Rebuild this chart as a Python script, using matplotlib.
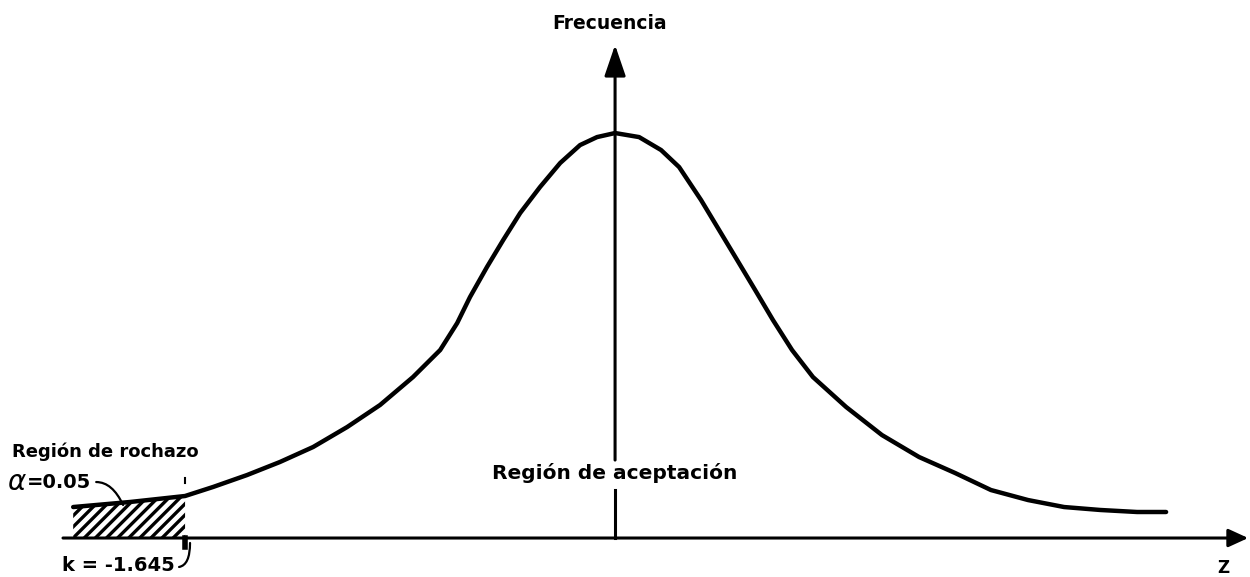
import numpy as np
import matplotlib.pyplot as plt

# curve: z value and relative frequency (peak = 0.40)
z_points = [-2.073, -1.855, -1.645, -1.538, -1.408, -1.282, -1.155, -1.025,
            -0.899, -0.773, -0.669, -0.604, -0.555, -0.490, -0.428, -0.363,
            -0.287, -0.210, -0.134, -0.069, 0.0, 0.092, 0.176, 0.245,
            0.329, 0.398, 0.467, 0.536, 0.604, 0.677, 0.757, 0.884,
            1.021, 1.163, 1.301, 1.438, 1.580, 1.718, 1.856, 1.997, 2.108]
freq_points = [0.0306, 0.0356, 0.0415, 0.0504, 0.0622, 0.0751, 0.0899, 0.1096,
               0.1314, 0.1590, 0.1857, 0.2123, 0.2380, 0.2677, 0.2943, 0.3210,
               0.3467, 0.3704, 0.3881, 0.3960, 0.4000, 0.3960, 0.3832, 0.3664,
               0.3338, 0.3042, 0.2746, 0.2449, 0.2153, 0.1857, 0.1590, 0.1294,
               0.1017, 0.0800, 0.0642, 0.0474, 0.0375, 0.0306, 0.0277, 0.0257, 0.0257]
k_value = -1.645
alpha_value = 0.05
z_axis_start, z_axis_end = -2.112, 2.422
freq_axis_top = 0.487

plt.rcParams['font.family'] = 'DejaVu Sans'
plt.rcParams['hatch.linewidth'] = 2.4

z = np.array(z_points)
f = np.array(freq_points)

fig = plt.figure(figsize=(12.5, 5.77), dpi=100)
ax = fig.add_axes([0, 0, 1, 1])
ax.set_xlim(-2.353, 2.429)
ax.set_ylim(-0.0385, 0.5314)
ax.axis('off')

# curve and rejection region
ax.plot(z, f, color='k', lw=3.2, solid_capstyle='round', solid_joinstyle='round')
mask = z <= k_value
ax.fill_between(z[mask], 0, f[mask], facecolor='none', edgecolor='k',
                hatch='///', linewidth=0)

# horizontal axis (Z)
ax.annotate('', xy=(z_axis_end, 0), xytext=(z_axis_start, 0),
            arrowprops=dict(arrowstyle='-|>,head_length=1.2,head_width=0.55',
                            mutation_scale=10, lw=2.2, color='k',
                            shrinkA=0, shrinkB=0))

# vertical axis (Frecuencia), broken around the label
ax.plot([0, 0], [0, 0.047], color='k', lw=2.2)
ax.annotate('', xy=(0, freq_axis_top), xytext=(0, 0.077),
            arrowprops=dict(arrowstyle='-|>,head_length=1.9,head_width=0.65',
                            mutation_scale=10, lw=2.2, color='k',
                            shrinkA=0, shrinkB=0))

# small marks at k
ax.plot([k_value, k_value], [0, -0.009], color='k', lw=4)
ax.plot([k_value, k_value], [0.054, 0.059], color='k', lw=1.5)

# leaders
ax.annotate('', xy=(-1.882, 0.0326), xytext=(-1.985, 0.0553),
            arrowprops=dict(arrowstyle='-', lw=1.6, color='k',
                            connectionstyle='angle3,angleA=0,angleB=115',
                            shrinkA=0, shrinkB=0))
ax.annotate('', xy=(-1.626, -0.0049), xytext=(-1.668, -0.0286),
            arrowprops=dict(arrowstyle='-', lw=1.6, color='k',
                            connectionstyle='angle3,angleA=10,angleB=90',
                            shrinkA=0, shrinkB=0))

# labels
ax.text(-0.02, 0.5086, 'Frecuencia', ha='center', va='center', fontsize=13.5, fontweight='bold')
ax.text(0, 0.0642, 'Región de aceptación', ha='center', va='center', fontsize=14.5, fontweight='bold')
ax.text(-2.307, 0.0849, 'Región de rochazo', ha='left', va='center', fontsize=13, fontweight='bold')
ax.text(-2.326, 0.0553, 'α', ha='left', va='center', fontsize=20, style='italic')
ax.text(-2.250, 0.0553, '=' + f'{alpha_value:.2f}', ha='left', va='center', fontsize=14, fontweight='bold')
ax.text(-2.116, -0.0267, f'k = {k_value}', ha='left', va='center', fontsize=14, fontweight='bold')
ax.text(2.326, -0.0296, 'Z', ha='center', va='center', fontsize=12, fontweight='bold')

fig.savefig('out.png', dpi=100)
